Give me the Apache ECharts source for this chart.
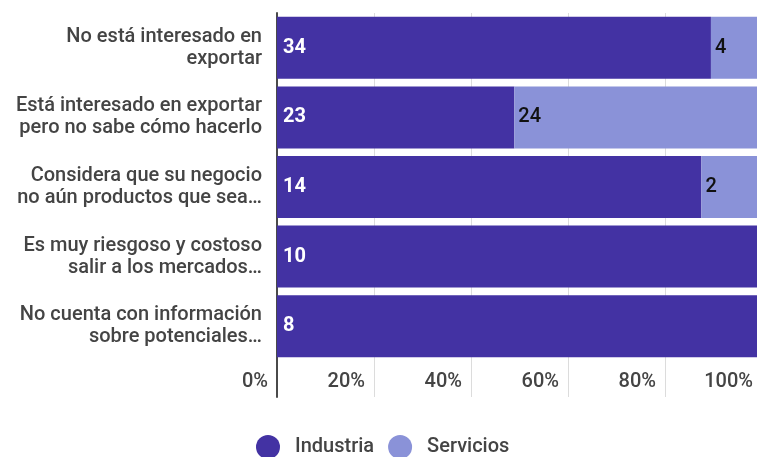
<!DOCTYPE html>
<html>
<head>
<meta charset="utf-8">
<script src="https://cdn.jsdelivr.net/npm/echarts@6/dist/echarts.min.js"></script>
<style>
  html, body { margin: 0; padding: 0; background: #fff; }
  #chart { width: 757px; height: 457px; }
</style>
</head>
<body>
<div id="chart"></div>
<script>
// Reasons for not exporting, by sector (counts of respondents)
const categories = [
  'No está interesado en\nexportar',
  'Está interesado en exportar\npero no sabe cómo hacerlo',
  'Considera que su negocio\nno aún productos que sea…',
  'Es muy riesgoso y costoso\nsalir a los mercados…',
  'No cuenta con información\nsobre potenciales…'
];
const industria = [34, 23, 14, 10, 8];
const servicios = [4, 24, 2, 0, 0];
const seriesNames = ['Industria', 'Servicios'];
const tickValues = [0, 20, 40, 60, 80, 100];

// 100% stacking: each bar is its share of the row total, labelled with the raw count
const totals = industria.map((v, i) => v + servicios[i]);
const share = (arr) => arr.map((v, i) => ({ value: totals[i] ? v / totals[i] * 100 : 0, count: v }));

const FONT = 'Roboto, "Noto Sans", sans-serif';
const PLOT_LEFT = 277;
const PLOT_WIDTH = 485;   // the 100% edge runs a little past the right border

const chart = echarts.init(document.getElementById('chart'), null, { renderer: 'canvas' });

const option = {
  animation: false,
  textStyle: { fontFamily: FONT },
  color: ['#4332a3', '#8a92d8'],
  legend: {
    data: seriesNames,
    left: 251,
    top: 430,
    icon: 'circle',
    itemWidth: 24,
    itemHeight: 24,
    itemGap: 14,
    textStyle: { fontSize: 20, fontWeight: 500, color: '#444', fontFamily: FONT, padding: [0, 0, 0, 10] }
  },
  grid: [
    { left: PLOT_LEFT, width: PLOT_WIDTH, top: 13, height: 348, outerBoundsMode: 'none', containLabel: false },
    { left: PLOT_LEFT, width: PLOT_WIDTH, top: 361, height: 36, outerBoundsMode: 'none', containLabel: false }
  ],
  xAxis: [
    {
      gridIndex: 0, type: 'value', min: 0, max: 100, interval: 20,
      axisLine: { show: false }, axisTick: { show: false }, axisLabel: { show: false },
      splitLine: { show: true, lineStyle: { color: '#dcdcdc', width: 1 } }
    },
    {
      gridIndex: 1, type: 'value', min: 0, max: 100, interval: 20,
      axisLine: { show: false }, axisTick: { show: false },
      splitLine: { show: true, lineStyle: { color: '#dcdcdc', width: 1 } },
      axisLabel: {
        inside: true, margin: 5, align: 'right', padding: [0, 9, 0, 0],
        fontSize: 20, fontWeight: 500, color: '#444', fontFamily: FONT,
        formatter: (v) => tickValues.includes(v) ? v + '%' : ''
      }
    }
  ],
  yAxis: [
    {
      gridIndex: 0, type: 'category', data: categories, inverse: true,
      axisLine: { show: true, lineStyle: { color: '#4a4a4a', width: 2 } },
      axisTick: { show: false },
      axisLabel: {
        margin: 15, fontSize: 20, fontWeight: 500, lineHeight: 22, color: '#444', fontFamily: FONT, align: 'right'
      }
    },
    {
      gridIndex: 1, type: 'value', min: 0, max: 1,
      axisLine: { show: true, lineStyle: { color: '#4a4a4a', width: 2 } },
      axisTick: { show: false }, axisLabel: { show: false }, splitLine: { show: false }
    }
  ],
  series: [
    {
      name: seriesNames[0], type: 'bar', stack: 'total', xAxisIndex: 0, yAxisIndex: 0,
      barWidth: 62,
      data: share(industria),
      label: {
        show: true, position: 'insideLeft', distance: 6,
        color: '#fff', fontSize: 20, fontWeight: 'bold', fontFamily: FONT,
        formatter: (p) => p.data.count > 0 ? String(p.data.count) : ''
      }
    },
    {
      name: seriesNames[1], type: 'bar', stack: 'total', xAxisIndex: 0, yAxisIndex: 0,
      barWidth: 62,
      data: share(servicios),
      label: {
        show: true, position: 'insideLeft', distance: 4,
        color: '#111', fontSize: 20, fontWeight: 500, fontFamily: FONT,
        formatter: (p) => p.data.count > 0 ? String(p.data.count) : ''
      }
    }
  ]
};

chart.setOption(option);
</script>
</body>
</html>
